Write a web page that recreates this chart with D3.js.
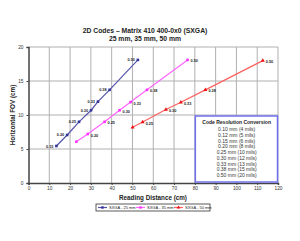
<!DOCTYPE html>
<html>
<head>
<meta charset="utf-8">
<script src="https://d3js.org/d3.v7.min.js"></script>
<style>
  body { margin: 0; background: #fff; }
  svg { display: block; font-family: "Liberation Sans", Arial, sans-serif; }
</style>
</head>
<body>
<svg width="300" height="241"></svg>
<script>
  // series data (reading distance cm, horizontal FOV cm, resolution label)
  var blueDist = [13.4, 18.6, 24.3, 30.1, 33.4, 39.0, 52.6];
  var blueFov = [5.44, 7.06, 9.0, 10.7, 11.96, 13.7, 18.1];
  var blueLbl = ["0.15", "0.20", "0.25", "0.30", "0.33", "0.38", "0.50"];
  var pinkDist = [23.0, 28.5, 36.6, 43.8, 49.1, 57.0, 76.5];
  var pinkFov = [6.07, 7.2, 9.0, 10.7, 11.9, 13.7, 18.1];
  var pinkLbl = ["", "0.20", "0.25", "0.30", "0.33", "0.38", "0.50"];
  var redDist = [50.1, 54.9, 66.1, 73.3, 85.1, 112.7];
  var redFov = [8.2, 8.97, 10.8, 11.87, 13.7, 18.0];
  var redLbl = ["", "0.25", "0.30", "0.33", "0.38", "0.50"];
  var seriesNames = ["SXGA - 25 mm", "SXGA - 35 mm", "SXGA - 50 mm"];
  var xTicks = [0, 10, 20, 30, 40, 50, 60, 70, 80, 90, 100, 110, 120];
  var yTicks = [0, 5, 10, 15, 20];
  var resLines = ["0.10 mm (4 mils)", "0.12 mm (5 mils)", "0.15 mm (6 mils)", "0.20 mm (8 mils)",
    "0.25 mm (10 mils)", "0.30 mm (12 mils)", "0.33 mm (13 mils)", "0.38 mm (15 mils)", "0.50 mm (20 mils)"];

  var svg = d3.select("svg");
  var x = d3.scaleLinear().domain([0, 120]).range([28.5, 278]);
  var y = d3.scaleLinear().domain([0, 20]).range([183, 47]);

  function zip(d, f, l) { return d.map(function (v, i) { return { x: v, y: f[i], l: l[i] }; }); }
  var series = [
    { name: seriesNames[0], data: zip(blueDist, blueFov, blueLbl), color: "#333399", line: "#5555aa", marker: "square", side: "left" },
    { name: seriesNames[1], data: zip(pinkDist, pinkFov, pinkLbl), color: "#ff33ff", line: "#ff66ff", marker: "square", side: "right" },
    { name: seriesNames[2], data: zip(redDist, redFov, redLbl), color: "#ee1111", line: "#ff6060", marker: "triangle", side: "right" }
  ];

  // titles
  svg.append("text").attr("x", 145).attr("y", 33).attr("text-anchor", "middle")
    .attr("font-size", 6.8).attr("font-weight", "bold").attr("fill", "#222").text("2D Codes – Matrix 410 400-0x0 (SXGA)");
  svg.append("text").attr("x", 145).attr("y", 40.5).attr("text-anchor", "middle")
    .attr("font-size", 6.8).attr("font-weight", "bold").attr("fill", "#222").text("25 mm, 35 mm, 50 mm");

  // grid
  svg.append("g").selectAll("line").data(xTicks.slice(1)).enter().append("line")
    .attr("x1", function (d) { return x(d); }).attr("x2", function (d) { return x(d); })
    .attr("y1", y(20)).attr("y2", y(0)).attr("stroke", "#b0b0b0").attr("stroke-width", 1);
  svg.append("g").selectAll("line").data(yTicks.slice(1)).enter().append("line")
    .attr("x1", x(0)).attr("x2", x(120))
    .attr("y1", function (d) { return y(d); }).attr("y2", function (d) { return y(d); })
    .attr("stroke", "#b0b0b0").attr("stroke-width", 1);

  // axes
  var xAxis = svg.append("g").attr("transform", "translate(0," + y(0) + ")")
    .call(d3.axisBottom(x).tickValues(xTicks).tickSize(2).tickPadding(2));
  var yAxis = svg.append("g").attr("transform", "translate(" + x(0) + ",0)")
    .call(d3.axisLeft(y).tickValues(yTicks).tickSize(2).tickPadding(3));
  [xAxis, yAxis].forEach(function (a) {
    a.select(".domain").attr("stroke", "#444").attr("stroke-width", 1.5);
    a.selectAll(".tick line").attr("stroke", "#444");
    a.selectAll("text").attr("font-size", 4.8).attr("fill", "#333").attr("font-family", "Liberation Sans, Arial, sans-serif");
  });

  svg.append("text").attr("x", 153).attr("y", 199.5).attr("text-anchor", "middle")
    .attr("font-size", 6.3).attr("font-weight", "bold").attr("fill", "#222").text("Reading Distance (cm)");
  svg.append("text").attr("transform", "translate(15," + y(10) + ") rotate(-90)").attr("text-anchor", "middle")
    .attr("font-size", 6.3).attr("font-weight", "bold").attr("fill", "#222").text("Horizontal FOV (cm)");

  // resolution box
  var bx = x(80) + 0.5, by = 116;
  svg.append("rect").attr("x", bx).attr("y", by).attr("width", x(120) - bx - 0.5).attr("height", y(0) - by - 1)
    .attr("fill", "#fff").attr("stroke", "#7070ee").attr("stroke-width", 1.5);
  var cx = (bx + x(120)) / 2;
  svg.append("text").attr("x", cx).attr("y", 124).attr("text-anchor", "middle")
    .attr("font-size", 5).attr("font-weight", "bold").attr("fill", "#222").text("Code Resolution Conversion");
  svg.append("g").selectAll("text").data(resLines).enter().append("text")
    .attr("x", cx).attr("y", function (d, i) { return 131 + i * 5.75; }).attr("text-anchor", "middle")
    .attr("font-size", 5).attr("fill", "#333").text(function (d) { return d; });

  // series
  var line = d3.line().x(function (d) { return x(d.x); }).y(function (d) { return y(d.y); });
  function marker(g, s, px, py, r) {
    if (s.marker === "square") {
      g.append("rect").attr("x", px - r).attr("y", py - r).attr("width", 2 * r).attr("height", 2 * r).attr("fill", s.color);
    } else {
      g.append("path").attr("d", d3.symbol().type(d3.symbolTriangle).size(r * r * 4)()).attr("transform", "translate(" + px + "," + py + ")").attr("fill", s.color);
    }
  }
  series.forEach(function (s) {
    svg.append("path").datum(s.data).attr("d", line).attr("fill", "none").attr("stroke", s.line).attr("stroke-width", 1.2);
    var g = svg.append("g");
    s.data.forEach(function (d) {
      marker(g, s, x(d.x), y(d.y), 1.3);
      if (d.l) {
        g.append("text").attr("x", s.side === "left" ? x(d.x) - 3 : x(d.x) + 3)
          .attr("y", y(d.y) + (s.side === "left" ? 1.5 : 2.5))
          .attr("text-anchor", s.side === "left" ? "end" : "start")
          .attr("font-size", 3.8).attr("font-weight", "bold").attr("fill", "#222").text(d.l);
      }
    });
  });

  // bottom legend
  var lg = svg.append("g").attr("transform", "translate(96,204)");
  lg.append("rect").attr("width", 114).attr("height", 7).attr("fill", "#fff").attr("stroke", "#333").attr("stroke-width", 0.8);
  series.forEach(function (s, i) {
    var ox = 2 + i * 38;
    lg.append("line").attr("x1", ox).attr("x2", ox + 9).attr("y1", 3.5).attr("y2", 3.5).attr("stroke", s.line).attr("stroke-width", 1.2);
    marker(lg, s, ox + 4.5, 3.5, 1.2);
    lg.append("text").attr("x", ox + 11).attr("y", 5.2).attr("font-size", 4).attr("fill", "#222").text(s.name);
  });
</script>
</body>
</html>
